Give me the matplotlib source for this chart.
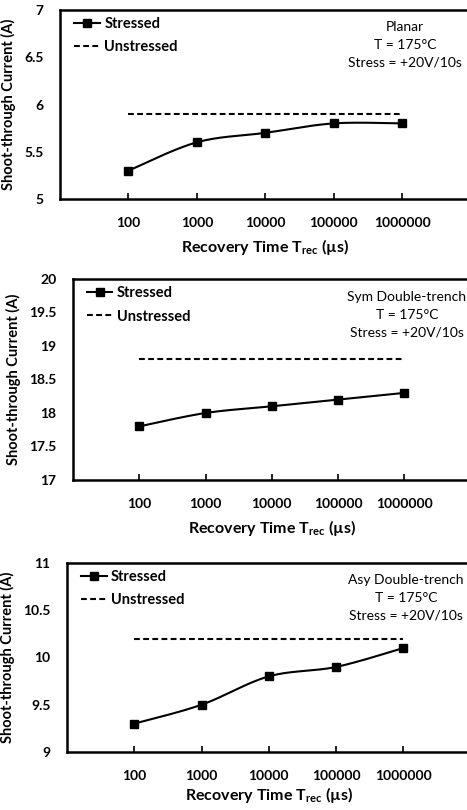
import numpy as np
import matplotlib
matplotlib.use("Agg")
import matplotlib.pyplot as plt
from matplotlib.lines import Line2D

plt.rcParams["font.family"] = ["Lato", "DejaVu Sans"]
plt.rcParams["mathtext.fontset"] = "custom"
plt.rcParams["mathtext.rm"] = "Lato"
plt.rcParams["mathtext.bf"] = "Lato:bold"

# ---- data ----
recovery_times = ["100", "1000", "10000", "100000", "1000000"]

planar_stressed = [5.3, 5.6, 5.7, 5.8, 5.8]
planar_unstressed = 5.9

sym_stressed = [17.8, 18.0, 18.1, 18.2, 18.3]
sym_unstressed = 18.8

asy_stressed = [9.3, 9.5, 9.8, 9.9, 10.1]
asy_unstressed = 10.2

panel_titles = ["Planar", "Sym Double-trench", "Asy Double-trench"]
conditions = ["T = 175°C", "Stress = +20V/10s"]
y_ranges = [(5, 7), (17, 20), (9, 11)]

W, H = 467, 810
fig = plt.figure(figsize=(W / 100, H / 100), dpi=100)


def px_rect(left, top, bottom, right=470.5):
    return [left / W, 1 - bottom / H, (right - left) / W, (bottom - top) / H]


def smooth_curve(x, y, n=40):
    """Catmull-Rom style cubic Bezier smoothing through the points."""
    pts = np.column_stack([x, y]).astype(float)
    P = np.vstack([pts[0], pts, pts[-1]])
    out = []
    t = np.linspace(0, 1, n)[:, None]
    for i in range(1, len(P) - 2):
        p0, p1, p2, p3 = P[i - 1], P[i], P[i + 1], P[i + 2]
        c1 = p1 + (p2 - p0) / 6.0
        c2 = p2 - (p3 - p1) / 6.0
        seg = ((1 - t) ** 3) * p1 + 3 * ((1 - t) ** 2) * t * c1 \
            + 3 * (1 - t) * t ** 2 * c2 + t ** 3 * p2
        out.append(seg if i == 1 else seg[1:])
    c = np.vstack(out)
    return c[:, 0], c[:, 1]


panels = [
    (planar_stressed, planar_unstressed, px_rect(60, 10, 199), 6),
    (sym_stressed, sym_unstressed, px_rect(73, 279, 480), 6),
    (asy_stressed, asy_unstressed, px_rect(67, 563, 752), 2),
]

lw = 1.5
for k, (stressed, unstressed, rect, xpad) in enumerate(panels):
    ax = fig.add_axes(rect)
    xpos = np.arange(len(recovery_times))
    sx, sy = smooth_curve(xpos, stressed)
    ax.plot(sx, sy, color="black", lw=lw, solid_capstyle="butt", zorder=3)
    ax.plot(xpos, stressed, linestyle="none", marker="s", ms=5.2,
            color="black", zorder=4)
    ax.plot([xpos[0], xpos[-1]], [unstressed, unstressed], color="black",
            lw=lw, linestyle=(0, (2.8, 1.6)), zorder=2)

    ax.set_xlim(-1, 5)
    ax.set_ylim(*y_ranges[k])
    ax.set_xticks(xpos)
    ax.set_xticklabels(recovery_times)
    lo, hi = y_ranges[k]
    yt = np.arange(lo, hi + 0.01, 0.5)
    ax.set_yticks(yt)
    ax.set_yticklabels([f"{v:g}" for v in yt])

    ax.spines["right"].set_visible(False)
    for side in ("left", "bottom", "top"):
        ax.spines[side].set_linewidth(1.8)
    ax.tick_params(axis="x", direction="in", length=4, width=1.2,
                   pad=13, labelsize=10)
    ax.tick_params(axis="y", length=0, pad=12, labelsize=10)
    for lab in ax.get_xticklabels() + ax.get_yticklabels():
        lab.set_fontweight("bold")

    ax.set_ylabel("Shoot-through Current (A)", fontsize=10.5,
                  fontweight="bold", labelpad=6)
    ax.set_xlabel(r"Recovery Time T$_{\mathbf{rec}}$ (µs)", fontsize=11.5,
                  fontweight="bold", labelpad=xpad)

    handles = [
        Line2D([], [], color="black", lw=lw, marker="s", ms=5.2),
        Line2D([], [], color="black", lw=lw, linestyle=(0, (2.8, 1.6))),
    ]
    ax.legend(handles, ["Stressed", "Unstressed"], loc="upper left",
              bbox_to_anchor=(0.035, 0.965), frameon=False,
              borderpad=0, borderaxespad=0, handlelength=1.75,
              handletextpad=0.3, labelspacing=0.65,
              prop={"weight": "bold", "size": 10.5})

    ax.text(0.84, 0.94, "\n".join([panel_titles[k]] + conditions),
            transform=ax.transAxes, ha="center", va="top", fontsize=10,
            linespacing=1.55)

fig.savefig("out.png", dpi=100)
